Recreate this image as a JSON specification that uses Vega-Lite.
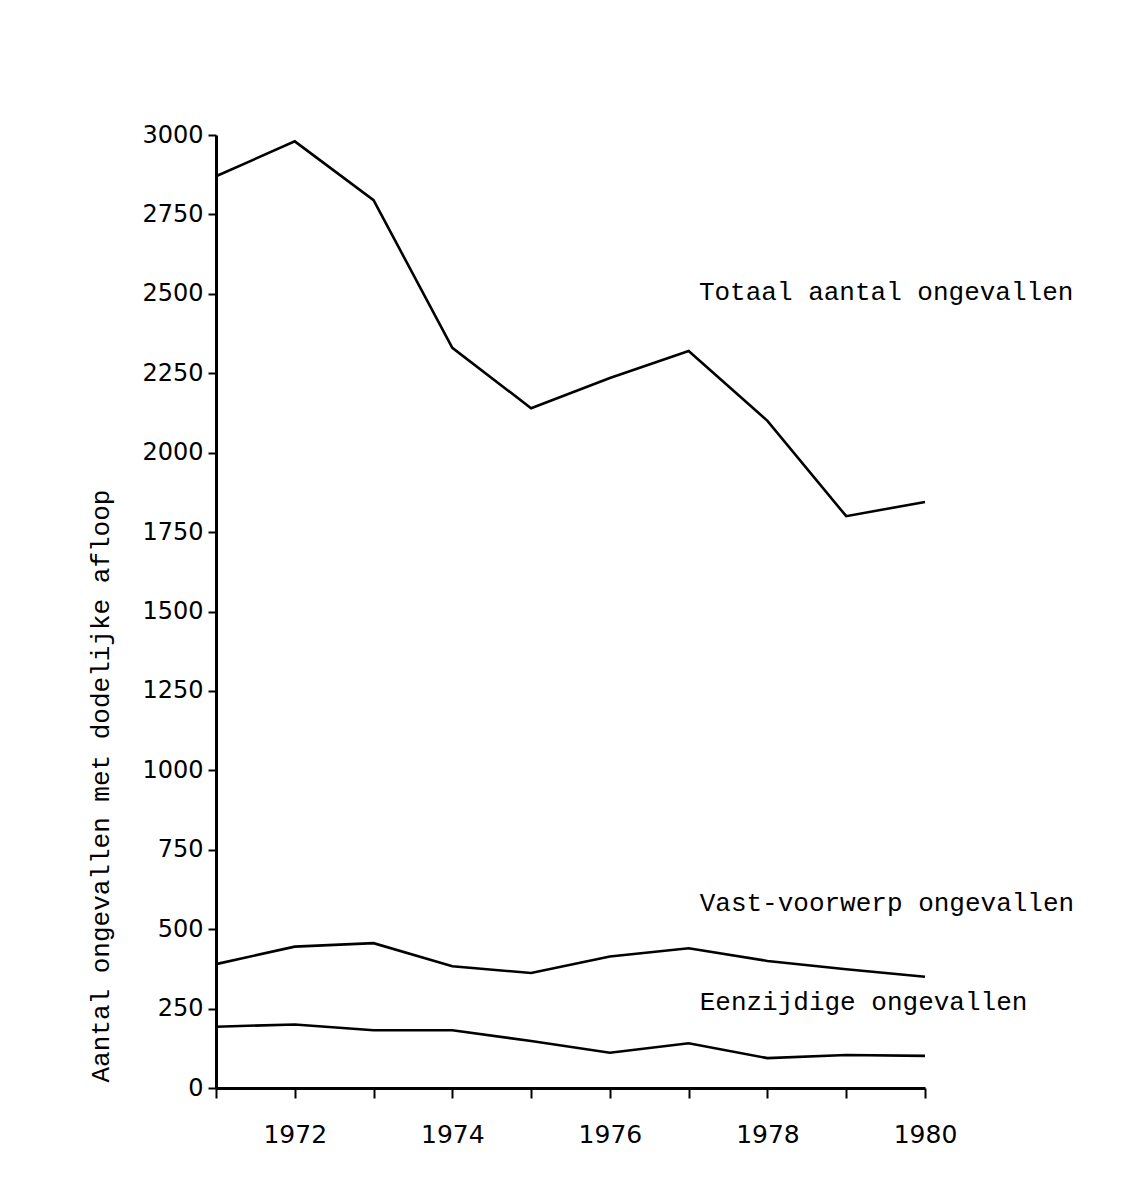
{
  "$schema": "https://vega.github.io/schema/vega-lite/v6.json",
  "autosize": {"type": "none"},
  "width": 709,
  "height": 953,
  "padding": {"left": 216, "top": 135, "right": 221, "bottom": 114},
  "background": "white",
  "config": {
    "view": {"stroke": null},
    "axis": {
      "domainColor": "black",
      "domainWidth": 3,
      "tickColor": "black",
      "tickWidth": 2,
      "labelColor": "black",
      "grid": false,
      "labelFont": "DejaVu Sans",
      "labelFontSize": 24,
      "titleColor": "black"
    }
  },
  "datasets": {
    "series": [
      {"year": 1971, "value": 2870, "series": "Totaal"},
      {"year": 1972, "value": 2980, "series": "Totaal"},
      {"year": 1973, "value": 2795, "series": "Totaal"},
      {"year": 1974, "value": 2330, "series": "Totaal"},
      {"year": 1975, "value": 2140, "series": "Totaal"},
      {"year": 1976, "value": 2235, "series": "Totaal"},
      {"year": 1977, "value": 2320, "series": "Totaal"},
      {"year": 1978, "value": 2100, "series": "Totaal"},
      {"year": 1979, "value": 1800, "series": "Totaal"},
      {"year": 1980, "value": 1845, "series": "Totaal"},
      {"year": 1971, "value": 390, "series": "Vast"},
      {"year": 1972, "value": 445, "series": "Vast"},
      {"year": 1973, "value": 456, "series": "Vast"},
      {"year": 1974, "value": 383, "series": "Vast"},
      {"year": 1975, "value": 362, "series": "Vast"},
      {"year": 1976, "value": 414, "series": "Vast"},
      {"year": 1977, "value": 440, "series": "Vast"},
      {"year": 1978, "value": 400, "series": "Vast"},
      {"year": 1979, "value": 374, "series": "Vast"},
      {"year": 1980, "value": 350, "series": "Vast"},
      {"year": 1971, "value": 193, "series": "Eenzijdig"},
      {"year": 1972, "value": 200, "series": "Eenzijdig"},
      {"year": 1973, "value": 182, "series": "Eenzijdig"},
      {"year": 1974, "value": 182, "series": "Eenzijdig"},
      {"year": 1975, "value": 148, "series": "Eenzijdig"},
      {"year": 1976, "value": 111, "series": "Eenzijdig"},
      {"year": 1977, "value": 141, "series": "Eenzijdig"},
      {"year": 1978, "value": 94, "series": "Eenzijdig"},
      {"year": 1979, "value": 104, "series": "Eenzijdig"},
      {"year": 1980, "value": 101, "series": "Eenzijdig"}
    ],
    "labels": [
      {"year": 1977.13, "value": 2505, "text": "Totaal aantal ongevallen"},
      {"year": 1977.14, "value": 582, "text": "Vast-voorwerp ongevallen"},
      {"year": 1977.14, "value": 271, "text": "Eenzijdige ongevallen"}
    ]
  },
  "layer": [
    {
      "data": {"name": "series"},
      "mark": {"type": "line", "color": "black", "strokeWidth": 2.6, "clip": false},
      "encoding": {
        "x": {
          "field": "year",
          "type": "quantitative",
          "scale": {"domain": [1971, 1980], "nice": false, "zero": false},
          "axis": {
            "title": null,
            "values": [1971, 1972, 1973, 1974, 1975, 1976, 1977, 1978, 1979, 1980],
            "labelExpr": "datum.value % 2 == 0 ? datum.value : ''",
            "tickSize": 10,
            "labelPadding": 24,
            "labelFontSize": 25,
            "labelFlush": false,
            "labelOverlap": false
          }
        },
        "y": {
          "field": "value",
          "type": "quantitative",
          "scale": {"domain": [0, 3000], "nice": false},
          "axis": {
            "values": [0, 250, 500, 750, 1000, 1250, 1500, 1750, 2000, 2250, 2500, 2750, 3000],
            "format": "d",
            "tickSize": 8,
            "labelPadding": 5,
            "labelFlush": false,
            "labelOverlap": false,
            "title": "Aantal ongevallen met dodelijke afloop",
            "titleFont": "Liberation Mono",
            "titleFontSize": 26,
            "titleFontWeight": "normal",
            "titleAngle": -90,
            "titleX": -108,
            "titleY": 947,
            "titleAlign": "left",
            "titleBaseline": "alphabetic"
          }
        },
        "detail": {"field": "series", "type": "nominal"}
      }
    },
    {
      "data": {"name": "labels"},
      "mark": {
        "type": "text",
        "align": "left",
        "baseline": "middle",
        "font": "Liberation Mono",
        "fontSize": 26,
        "color": "black"
      },
      "encoding": {
        "x": {"field": "year", "type": "quantitative"},
        "y": {"field": "value", "type": "quantitative"},
        "text": {"field": "text", "type": "nominal"}
      }
    }
  ]
}
